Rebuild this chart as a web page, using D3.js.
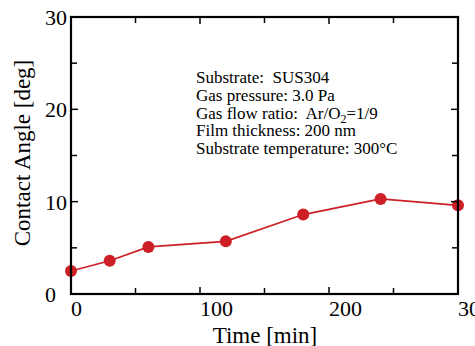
<!DOCTYPE html>
<html>
<head>
<meta charset="utf-8">
<script src="https://cdn.jsdelivr.net/npm/d3@7"></script>
<style>
  body { margin: 0; background: #fff; }
  svg { display: block; font-family: "Liberation Serif", "Times New Roman", serif; }
  text { white-space: pre; }
</style>
</head>
<body>
<svg width="475" height="346"></svg>
<script>
// data
const times = [0, 30, 60, 120, 180, 240, 300];
const angles = [2.5, 3.6, 5.1, 5.7, 8.6, 10.3, 9.6];
const xTicks = [0, 100, 200, 300];
const yTicks = [0, 10, 20, 30];
const xMinor = [50, 150, 250];
const yMinor = [5, 15, 25];
const notes = [
  ["Substrate:  SUS304"],
  ["Gas pressure: 3.0 Pa"],
  ["Gas flow ratio:  Ar/O", "2", "=1/9"],
  ["Film thickness: 200 nm"],
  ["Substrate temperature: 300°C"]
];

let svg = d3.select("svg");
let margin = {left: 71, top: 17, right: 475 - 458, bottom: 346 - 294};
let w = 475 - margin.left - margin.right,
  h = 346 - margin.top - margin.bottom;

let x = d3.scaleLinear().domain([0, 300]).range([0, w]);
let y = d3.scaleLinear().domain([0, 30]).range([h, 0]);

let g = svg.append("g")
  .attr("transform", `translate(${margin.left}, ${margin.top})`);

let red = "#cc1f26";

// data line and markers
g.append("path")
  .datum(d3.zip(times, angles))
  .attr("fill", "none")
  .attr("stroke", red)
  .attr("stroke-width", 1.6)
  .attr("d", d3.line().x(d => x(d[0])).y(d => y(d[1])));

g.selectAll("circle")
  .data(d3.zip(times, angles))
  .enter().append("circle")
  .attr("cx", d => x(d[0]))
  .attr("cy", d => y(d[1]))
  .attr("r", 6)
  .attr("fill", red);

// inward ticks on all four sides
function ticks(vals, len) {
  vals.forEach(v => {
    g.append("line").attr("x1", x(v)).attr("x2", x(v)).attr("y1", h).attr("y2", h - len);
    g.append("line").attr("x1", x(v)).attr("x2", x(v)).attr("y1", 0).attr("y2", len);
  });
}
function yticks(vals, len) {
  vals.forEach(v => {
    g.append("line").attr("y1", y(v)).attr("y2", y(v)).attr("x1", 0).attr("x2", len);
    g.append("line").attr("y1", y(v)).attr("y2", y(v)).attr("x1", w).attr("x2", w - len);
  });
}
ticks(xTicks, 7);
ticks(xMinor, 6);
yticks(yTicks, 7);
yticks(yMinor, 6);
g.selectAll("line").attr("stroke", "#000").attr("stroke-width", 1.5);

g.append("rect")
  .attr("width", w)
  .attr("height", h)
  .attr("fill", "none")
  .attr("stroke", "#000")
  .attr("stroke-width", 2.2);

// tick labels
g.selectAll(".xl")
  .data(xTicks)
  .enter().append("text")
  .attr("class", "xl")
  .attr("x", d => x(d))
  .attr("y", h + 22)
  .attr("font-size", 22)
  .text(d => d);

g.selectAll(".yl")
  .data(yTicks)
  .enter().append("text")
  .attr("class", "yl")
  .attr("x", -26)
  .attr("y", d => y(d) + 8)
  .attr("font-size", 22)
  .text(d => d);

// axis titles
svg.append("text")
  .attr("x", 265)
  .attr("y", 343)
  .attr("text-anchor", "middle")
  .attr("font-size", 23)
  .text("Time [min]");

svg.append("text")
  .attr("transform", "translate(30, 153) rotate(-90)")
  .attr("text-anchor", "middle")
  .attr("font-size", 23)
  .text("Contact Angle [deg]");

// annotation block
let note = svg.append("g").attr("font-size", 17);
notes.forEach((parts, i) => {
  let t = note.append("text")
    .attr("x", 196)
    .attr("y", 83 + i * 17.8);
  t.append("tspan").text(parts[0]);
  if (parts.length > 1) {
    t.append("tspan").attr("font-size", 12).attr("dy", 4).text(parts[1]);
    t.append("tspan").attr("dy", -4).text(parts[2]);
  }
});
</script>
</body>
</html>
